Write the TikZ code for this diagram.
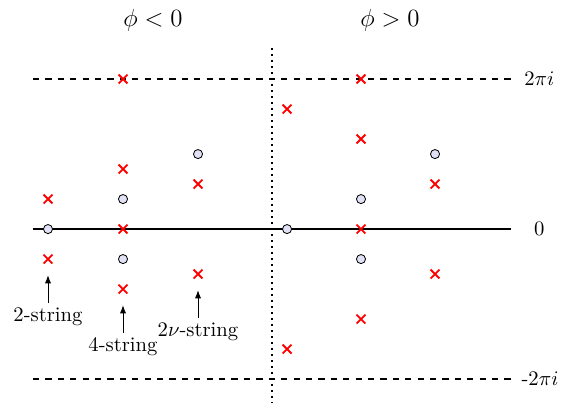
\documentclass[tikz,border=0pt]{standalone}
\usepackage{tikz}
\usetikzlibrary{arrows.meta,shapes.misc}
\definecolor{polefill}{RGB}{225,225,246}
\tikzset{
  zero/.style={circle, draw=black, fill=polefill, inner sep=0pt, minimum size=4.4pt, line width=0.4pt},
  pole/.style={cross out, draw=red, line width=0.9pt, inner sep=0pt, minimum size=3.4pt},
  level/.style={dashed, line width=0.9pt},
  axis/.style={line width=0.9pt},
  wall/.style={dotted, line width=0.9pt},
  tag/.style={font=\normalsize, inner sep=2pt},
  hint/.style={-{Latex[length=4pt,width=3pt]}, line width=0.45pt},
}
\begin{document}
\begin{tikzpicture}[x=1.275cm, y=0.255cm]
  \useasboundingbox (-0.64,-11.73) rectangle (6.893,15.27);

  % lines
  \coordinate (topL) at (-0.2,10);  \coordinate (topR) at (6.17,10);
  \coordinate (midL) at (-0.2,0);   \coordinate (midR) at (6.17,0);
  \coordinate (botL) at (-0.2,-10); \coordinate (botR) at (6.17,-10);
  \coordinate (wallT) at (2.987,12.07); \coordinate (wallB) at (2.987,-11.6);
  \draw[level] (topL) -- (topR);
  \draw[level] (botL) -- (botR);
  \draw[axis] (midL) -- (midR);
  \draw[wall] (wallT) -- (wallB);

  \node[tag] (lbltop) at (6.55,10) {$2\pi i$};
  \node[tag] (lblmid) at (6.55,0) {$0$};
  \node[tag] (lblbot) at (6.56,-10) {-$2\pi i$};
  \node[tag, font=\large] (neg) at (1.40,13.93) {$\phi<0$};
  \node[tag, font=\large] (pos) at (4.56,13.93) {$\phi>0$};

  % phi < 0
  \node[pole] (a1) at (0,2) {};
  \node[zero] (a2) at (0,0) {};
  \node[pole] (a3) at (0,-2) {};
  \foreach \y/\n in {10/1,4/2,0/4,-4/6} \node[pole] (b\n) at (1,\y) {};
  \foreach \y/\n in {2/3,-2/5} \node[zero] (b\n) at (1,\y) {};
  \node[zero] (c1) at (2,5) {};
  \node[pole] (c2) at (2,3) {};
  \node[pole] (c3) at (2,-3) {};

  % phi > 0
  \node[pole] (d1) at (3.187,8) {};
  \node[zero] (d2) at (3.187,0) {};
  \node[pole] (d3) at (3.187,-8) {};
  \foreach \y/\n in {10/1,6/2,0/4,-6/6} \node[pole] (e\n) at (4.173,\y) {};
  \foreach \y/\n in {2/3,-2/5} \node[zero] (e\n) at (4.173,\y) {};
  \node[zero] (f1) at (5.16,5) {};
  \node[pole] (f2) at (5.16,3) {};
  \node[pole] (f3) at (5.16,-3) {};

  % strings
  \coordinate (tip2) at (0,-3.07);
  \coordinate (tip4) at (1,-5.07);
  \coordinate (tipnu) at (2,-4.07);
  \node[tag, anchor=north] (str2) at (0,-4.93) {2-string};
  \node[tag, anchor=north] (str4) at (1,-6.93) {4-string};
  \node[tag, anchor=north] (strnu) at (2,-5.93) {$2\nu$-string};
  \draw[hint] (str2.north) -- (tip2);
  \draw[hint] (str4.north) -- (tip4);
  \draw[hint] (strnu.north) -- (tipnu);
\end{tikzpicture}
\end{document}
